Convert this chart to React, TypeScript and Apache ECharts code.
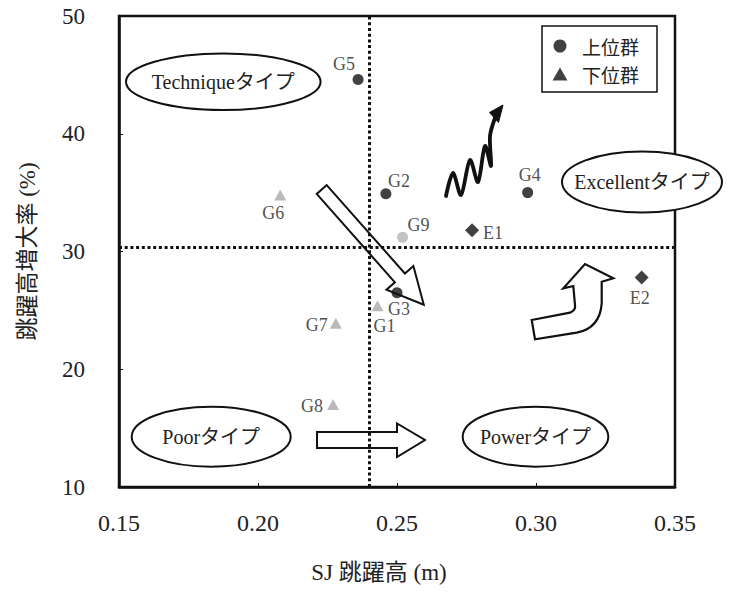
import React, { useEffect, useRef } from 'react';
import * as echarts from 'echarts';

// ---- data ----
const upperNames = ['G5', 'G2', 'G4', 'G3'];
const upperSJ = [0.236, 0.246, 0.297, 0.25];
const upperRate = [44.6, 34.9, 35.0, 26.5];

const lowerNames = ['G6', 'G1', 'G7', 'G8'];
const lowerSJ = [0.208, 0.243, 0.228, 0.227];
const lowerRate = [34.8, 25.4, 23.9, 17.0];

const otherNames = ['G9'];
const otherSJ = [0.252];
const otherRate = [31.2];

const eliteNames = ['E1', 'E2'];
const eliteSJ = [0.277, 0.338];
const eliteRate = [31.8, 27.8];

const meanSJ = 0.2403;
const meanRate = 30.35;

const xMin = 0.15;
const xMax = 0.35;
const xStep = 0.05;
const yMin = 10;
const yMax = 50;
const yStep = 10;

const typeLabels = ['Techniqueタイプ', 'Excellentタイプ', 'Poorタイプ', 'Powerタイプ'];

// ---- layout (annotation positions, label offsets) ----
const labelOffsets: Record<string, [number, number]> = {
  G5: [-14, -16], G2: [13, -13], G6: [-7, 18], G9: [16, -12], G4: [2, -18],
  E1: [21, 3], G3: [2, 16], G1: [7, 20], G7: [-19, 2], G8: [-21, 1], E2: [-2, 21],
};

const ellipseBoxes = [
  { cx: 223.3, cy: 81.7, rx: 97.3, ry: 28.3 },
  { cx: 642, cy: 182, rx: 80, ry: 30.5 },
  { cx: 211.2, cy: 436.7, rx: 79.5, ry: 30 },
  { cx: 535.5, cy: 436.7, rx: 72.8, ry: 30 },
];

const SERIF = '"Liberation Serif", "Noto Sans CJK JP", serif';
const GOTHIC = '"Noto Sans CJK JP", sans-serif';

let registered = false;
function registerShapes() {
  if (registered) return;
  registered = true;
  const d =
    'M531.7,320 L570,312.7 Q576,310 575,305 L573.3,286 L563.3,288.3 L585,264 L613.3,278.3 L601.7,281.7 L601.7,303.3 Q600,328 576.7,332.7 L535,339.3 Z';
  echarts.graphic.registerShape('curvedArrow', echarts.graphic.extendPath(d, {}) as any);
}

function makeData(names: string[], xs: number[], ys: number[]) {
  return names.map((n, i) => ({
    name: n,
    value: [xs[i], ys[i]],
    label: { offset: labelOffsets[n] || [0, 0] },
  }));
}

const pointLabel = {
  show: true,
  position: 'inside',
  formatter: '{b}',
  fontFamily: SERIF,
  fontSize: 18,
  color: '#222',
};

export default function App() {
  const ref = useRef<HTMLDivElement>(null);

  useEffect(() => {
    if (!ref.current) return;
    registerShapes();
    const chart = echarts.init(ref.current, undefined, { renderer: 'svg' });

    const graphics: any[] = [];
    ellipseBoxes.forEach((e, i) => {
      graphics.push({
        type: 'ellipse',
        shape: { cx: e.cx, cy: e.cy, rx: e.rx, ry: e.ry },
        style: { fill: '#fff', stroke: '#111', lineWidth: 2 },
        z: 100,
      });
      graphics.push({
        type: 'text',
        x: e.cx,
        y: e.cy,
        style: {
          text: typeLabels[i],
          fill: '#222',
          fontSize: 20,
          fontFamily: SERIF,
          align: 'center',
          verticalAlign: 'middle',
        },
        z: 101,
      });
    });
    // diagonal block arrow
    graphics.push({
      type: 'polygon',
      shape: {
        points: [
          [326.7, 185.1], [404.9, 273.5], [413.4, 266.0], [423.8, 304.8],
          [386.4, 289.8], [394.9, 282.3], [316.7, 193.9],
        ],
      },
      style: { fill: 'none', stroke: '#111', lineWidth: 2 },
      z: 90,
    });
    // right block arrow
    graphics.push({
      type: 'polygon',
      shape: {
        points: [
          [317, 432], [397, 432], [397, 423.5], [425, 440], [397, 457], [397, 448], [317, 448],
        ],
      },
      style: { fill: 'none', stroke: '#111', lineWidth: 2 },
      z: 90,
    });
    // curved arrow
    graphics.push({
      type: 'curvedArrow',
      x: 0,
      y: 0,
      style: { fill: 'none', stroke: '#111', lineWidth: 2.2 },
      z: 90,
    });
    // wavy arrow
    graphics.push({
      type: 'polyline',
      shape: {
        points: [
          [446, 196], [453, 173], [461, 195], [470, 160], [478, 182], [485, 146],
          [491, 166], [490, 136], [495, 118],
        ],
        smooth: 0.3,
      },
      style: { fill: 'none', stroke: '#111', lineWidth: 3.8, lineCap: 'round', lineJoin: 'round' },
      z: 90,
    });
    graphics.push({
      type: 'polygon',
      shape: { points: [[503, 105], [489.5, 112.5], [498.5, 122.5]] },
      style: { fill: '#111', stroke: '#111', lineWidth: 1 },
      z: 90,
    });

    const option: any = {
      animation: false,
      backgroundColor: '#fff',
      grid: {
        left: 119,
        right: 62,
        top: 16,
        bottom: 105,
        show: true,
        borderColor: '#111',
        borderWidth: 2.5,
        backgroundColor: 'transparent',
      },
      legend: {
        orient: 'vertical',
        left: 542,
        top: 26,
        padding: [10.5, 18, 8.5, 10.5],
        itemWidth: 15,
        itemHeight: 13,
        itemGap: 9,
        borderColor: '#111',
        borderWidth: 1.5,
        backgroundColor: '#fff',
        textStyle: { fontFamily: GOTHIC, fontSize: 19, color: '#222', padding: [0, 0, 0, 9.5] },
        data: [
          { name: '上位群', icon: 'circle', itemStyle: { color: '#111' } },
          { name: '下位群', icon: 'triangle', itemStyle: { color: '#111' } },
        ],
      },
      xAxis: {
        type: 'value',
        min: xMin,
        max: xMax,
        interval: xStep,
        name: 'SJ 跳躍高 (m)',
        nameLocation: 'middle',
        nameGap: 74,
        nameTextStyle: { fontFamily: SERIF, fontSize: 23, color: '#222', padding: [0, 36, 0, 0] },
        axisLine: { show: true, lineStyle: { color: '#111', width: 2.5 } },
        axisTick: { show: true, inside: true, length: 4, lineStyle: { color: '#111', width: 1 } },
        axisLabel: {
          margin: 24,
          fontFamily: SERIF,
          fontSize: 24,
          color: '#222',
          formatter: (v: number) => v.toFixed(2),
        },
        splitLine: { show: false },
      },
      yAxis: {
        type: 'value',
        min: yMin,
        max: yMax,
        interval: yStep,
        name: '跳躍高増大率 (%)',
        nameLocation: 'middle',
        nameGap: 80,
        nameRotate: 90,
        nameTextStyle: { fontFamily: SERIF, fontSize: 23, color: '#222' },
        axisLine: { show: true, lineStyle: { color: '#111', width: 2.5 } },
        axisTick: { show: true, inside: true, length: 4, lineStyle: { color: '#111', width: 1 } },
        axisLabel: { margin: 34, fontFamily: SERIF, fontSize: 23, color: '#222' },
        splitLine: { show: false },
      },
      series: [
        {
          name: '上位群',
          type: 'scatter',
          symbol: 'circle',
          symbolSize: 11,
          itemStyle: { color: '#111' },
          label: pointLabel,
          data: makeData(upperNames, upperSJ, upperRate),
          z: 5,
          markLine: {
            silent: true,
            symbol: 'none',
            label: { show: false },
            lineStyle: { color: '#111', width: 3, type: [3, 2.7] },
            data: [{ xAxis: meanSJ }, { yAxis: meanRate }],
            z: 2,
          },
        },
        {
          name: '下位群',
          type: 'scatter',
          symbol: 'triangle',
          symbolSize: [12, 11],
          itemStyle: { color: '#a9a9a9' },
          label: pointLabel,
          data: makeData(lowerNames, lowerSJ, lowerRate),
          z: 5,
        },
        {
          name: 'G9',
          type: 'scatter',
          symbol: 'circle',
          symbolSize: 11,
          itemStyle: { color: '#b5b5b5' },
          label: pointLabel,
          data: makeData(otherNames, otherSJ, otherRate),
          z: 5,
        },
        {
          name: 'E',
          type: 'scatter',
          symbol: 'diamond',
          symbolSize: 14,
          itemStyle: { color: '#111' },
          label: pointLabel,
          data: makeData(eliteNames, eliteSJ, eliteRate),
          z: 5,
        },
      ],
      graphic: { elements: graphics },
    };

    chart.setOption(option);
    return () => chart.dispose();
  }, []);

  return (
    <div
      ref={ref}
      style={{ position: 'absolute', left: 0, top: 0, width: 737, height: 592, background: '#fff' }}
    />
  );
}
